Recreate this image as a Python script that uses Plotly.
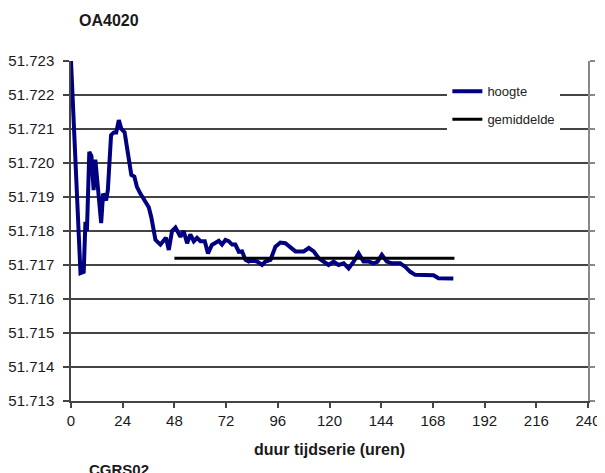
import plotly.graph_objects as go

# ---- data ----
hours = [
    0, 4.4, 5.9, 6.7, 7.4, 8.5, 9.5, 10.5, 11.3, 12.4,
    14.0, 14.9, 16.3, 17.1, 18.6, 19.9, 21.0, 22.2, 23.4, 24.9,
    26.7, 28.0, 29.4, 30.6, 32.2, 34.5, 36.1, 37.3, 39.2, 41.5,
    43.1, 44.1, 45.4, 46.9, 48.5, 50.8, 52.3, 53.9, 55.4, 57.0,
    58.5, 60.1, 62.1, 63.6, 65.4, 67.0, 68.6, 70.1, 71.7, 73.2,
    74.8, 76.3, 77.9, 79.4, 81.0, 82.5, 84.1, 86.4, 88.7, 90.2,
    92.6, 94.9, 97.2, 99.5, 101.9, 104.2, 106.5, 108.0, 110.4, 112.7,
    115.0, 117.3, 119.6, 121.9, 124.2, 126.6, 128.9, 131.2, 133.5, 135.8,
    138.2, 140.5, 142.3, 144.3, 146.6, 149.0, 152.8, 155.1, 157.5, 159.8,
    163.6, 168.3, 170.6, 174.4, 177.5,
]
hoogte = [
    51.7230, 51.71676, 51.7168, 51.71827, 51.7180, 51.72033, 51.7202, 51.7192, 51.7201, 51.7192,
    51.71823, 51.7191, 51.7189, 51.7192, 51.72082, 51.7209, 51.7209, 51.72126, 51.7210, 51.7209,
    51.7201, 51.71965, 51.7196, 51.7193, 51.7191, 51.71886, 51.7187, 51.7184, 51.71774, 51.7176,
    51.7177, 51.7178, 51.71744, 51.7180, 51.7181, 51.71783, 51.7180, 51.71764, 51.7179, 51.7177,
    51.7178, 51.7177, 51.7177, 51.71734, 51.71759, 51.71764, 51.71771, 51.7176, 51.71774, 51.7177,
    51.7176, 51.7176, 51.71739, 51.7174, 51.71715, 51.7171, 51.71715, 51.7171, 51.7170, 51.7171,
    51.71715, 51.71754, 51.71766, 51.71764, 51.7175, 51.7174, 51.7174, 51.7174, 51.7175, 51.7174,
    51.7172, 51.7171, 51.7170, 51.7171, 51.7170, 51.71705, 51.7169, 51.7171, 51.71734, 51.7171,
    51.7171, 51.71705, 51.7171, 51.7173, 51.7171, 51.71705, 51.71705, 51.71695, 51.7168, 51.71671,
    51.7167, 51.7167, 51.71661, 51.7166, 51.7166,
]
mean_hours = [48, 178]
mean_value = 51.7172
x_ticks = [0, 24, 48, 72, 96, 120, 144, 168, 192, 216, 240]
y_ticks = [51.713, 51.714, 51.715, 51.716, 51.717, 51.718, 51.719, 51.720, 51.721, 51.722, 51.723]

FONT = "Liberation Sans, Arial, sans-serif"

fig = go.Figure()
fig.add_trace(go.Scatter(
    x=hours, y=hoogte, mode="lines", name="hoogte",
    line=dict(color="#000080", width=4), legendgroup="a",
))
fig.add_trace(go.Scatter(
    x=mean_hours, y=[mean_value] * len(mean_hours), mode="lines", name="gemiddelde",
    line=dict(color="#000000", width=3), legendgroup="b",
))
# invisible trace for the right-hand (clipped) axis
fig.add_trace(go.Scatter(
    x=[None], y=[None], yaxis="y2", showlegend=False, hoverinfo="skip",
))

fig.update_layout(
    width=597, height=465,
    margin=dict(l=63, r=17, t=53, b=72),
    paper_bgcolor="white", plot_bgcolor="white",
    font=dict(family=FONT, color="#1a1a1a"),
    showlegend=True,
    legend=dict(
        x=0.728, y=0.955, xanchor="left", yanchor="top",
        bgcolor="white", borderwidth=0,
        font=dict(size=13, family=FONT, color="#222"),
        traceorder="grouped", tracegroupgap=8,
        itemwidth=30,
    ),
    xaxis=dict(
        range=[0, 240], tickvals=x_ticks, automargin=False,
        ticks="outside", ticklen=5, tickcolor="#444", tickwidth=1.5,
        showline=True, linecolor="#444", linewidth=1.5,
        showgrid=False, zeroline=False,
        tickfont=dict(size=15, family=FONT, color="#1a1a1a"),
        title=dict(text="<b>duur tijdserie (uren)</b>", standoff=16,
                   font=dict(size=16, family=FONT, color="#1a1a1a")),
    ),
    yaxis=dict(
        range=[51.713, 51.723], tickvals=y_ticks, tickformat=".3f", automargin=False,
        ticks="outside", ticklen=6, tickcolor="#444", tickwidth=1.5,
        ticklabelstandoff=6,
        showline=True, linecolor="#444", linewidth=1.5,
        showgrid=True, gridcolor="#444", gridwidth=1.5,
        zeroline=False,
        tickfont=dict(size=15, family=FONT, color="#1a1a1a"),
    ),
    yaxis2=dict(
        range=[51.713, 51.723], tickvals=y_ticks, tickformat=".3f", automargin=False,
        overlaying="y", side="right",
        ticks="outside", ticklen=5, tickcolor="#888", tickwidth=1.5,
        showline=True, linecolor="#888", linewidth=1.5,
        showgrid=False, zeroline=False,
        tickfont=dict(size=15, family=FONT, color="#1a1a1a"),
    ),
    annotations=[
        dict(text="<b>OA4020</b>", xref="paper", yref="paper", x=0.012, y=1.12,
             xanchor="left", yanchor="middle", showarrow=False,
             font=dict(size=16, family=FONT, color="#1a1a1a")),
        dict(text="<b>CGRS02</b>", xref="paper", yref="paper", x=0.03, y=-0.17,
             xanchor="left", yanchor="top", showarrow=False,
             font=dict(size=15, family=FONT, color="#1a1a1a")),
    ],
)

fig.write_html("out.html")
